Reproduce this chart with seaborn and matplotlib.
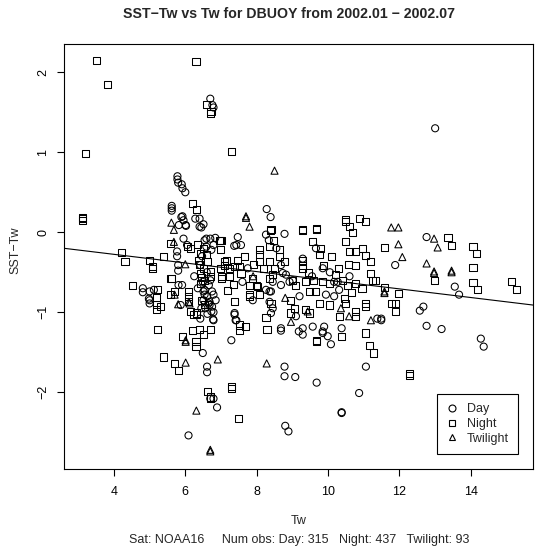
import numpy as np
import pandas as pd
import matplotlib
matplotlib.use("Agg")
import matplotlib.pyplot as plt
import seaborn as sns
from matplotlib.lines import Line2D

# ---- data (Tw, SST-Tw) ----
day_points = [
    (6.70, 1.67), (6.79, 1.56), (6.76, 1.59), (13.0, 1.30),
    (5.78, 0.70), (5.78, 0.66), (5.80, 0.62), (5.90, 0.60), (5.92, 0.55), (6.00, 0.50),
    (5.62, 0.33), (5.62, 0.30), (5.62, 0.27), (5.92, 0.20), (6.02, 0.08), (5.95, 0.15),
    (5.89, 0.19), (5.82, 0.09), (6.01, 0.09), (6.40, 0.07),
    (6.28, 0.17), (6.40, 0.17), (6.51, 0.10), (6.45, 0.06), (6.70, -0.08), (6.79, -0.16),
    (6.84, -0.07), (6.59, -0.08), (6.54, -0.10), (6.59, -0.18), (6.73, -0.22),
    (5.95, -0.08), (6.05, -0.16), (5.77, -0.24), (5.77, -0.30), (5.80, -0.41), (5.80, -0.48),
    (5.81, -0.66), (5.91, -0.66),
    (6.42, -0.41), (6.70, -0.60), (6.51, -0.74), (6.61, -0.80), (6.51, -0.85), (6.75, -0.74),
    (6.79, -0.78), (6.65, -0.89), (6.75, -0.93), (6.56, -0.95), (6.42, -1.08), (6.79, -1.10),
    (6.49, -0.62), (6.54, -0.72), (6.68, -0.91), (6.79, -1.00), (6.54, -0.78), (6.68, -0.87),
    (6.73, -0.99), (6.78, -1.09), (6.47, -0.30), (6.60, -0.50), (6.45, -0.95), (6.62, -1.02),
    (6.35, -0.70), (6.85, -0.85), (6.25, -0.55), (6.66, -0.66),
    (4.81, -0.70), (4.81, -0.75), (4.98, -0.83), (5.00, -0.74), (5.00, -0.85), (5.00, -0.89),
    (5.12, -0.72), (5.87, -0.91),
    (6.49, -1.51), (6.61, -1.68), (6.61, -1.75), (6.79, -2.08), (6.89, -2.19), (6.70, -2.08),
    (6.09, -2.54),
    (8.28, 0.29), (8.39, 0.19), (8.78, -0.02), (7.47, -0.06), (7.37, -0.17), (7.56, -0.16),
    (7.43, -0.16), (8.26, -0.03), (8.34, -0.10),
    (8.55, -0.20), (8.68, -0.41), (8.73, -0.51), (9.29, -0.33), (9.66, -0.20),
    (8.82, -0.53), (8.68, -0.66), (8.92, -0.62), (10.27, -0.62), (8.45, -0.62), (8.40, -0.74),
    (9.01, -0.60), (10.31, -0.72), (10.17, -0.62), (8.26, -0.72), (9.55, -0.55), (9.85, -0.45),
    (10.05, -0.50), (10.60, -0.55), (9.20, -0.80), (7.60, -0.62), (7.75, -0.45),
    (7.38, -1.01), (7.43, -1.10), (7.89, -0.85), (8.36, -0.74), (8.36, -0.87), (8.45, -0.95),
    (8.40, -1.01), (9.10, -1.05), (7.38, -1.03), (7.41, -1.10),
    (9.94, -0.78), (10.17, -0.80), (11.38, -1.08),
    (8.68, -1.23), (7.29, -1.35), (9.29, -1.28), (9.85, -1.26), (9.85, -1.24), (9.99, -1.30),
    (10.08, -1.40), (10.38, -1.20), (11.06, -1.68), (9.29, -1.20), (9.57, -1.18), (9.89, -1.18),
    (9.18, -1.24), (8.68, -1.20),
    (8.78, -1.68), (9.08, -1.81), (9.68, -1.88), (10.87, -2.01), (10.38, -2.26), (10.38, -2.25),
    (8.80, -2.42), (8.89, -2.49), (8.78, -1.80),
    (12.76, -0.06), (11.88, -0.41), (13.55, -0.68), (13.67, -0.78), (12.67, -0.93),
    (12.57, -0.98), (11.49, -1.10), (11.49, -1.08), (12.76, -1.17), (13.18, -1.21),
    (14.28, -1.33), (14.36, -1.43),
]

night_points = [
    (3.51, 2.15), (3.81, 1.85), (6.30, 2.14), (6.60, 1.60), (6.70, 1.49), (6.72, 1.51),
    (3.21, 0.98), (7.30, 1.01), (3.11, 0.17), (3.11, 0.15), (3.11, 0.18),
    (6.19, 0.36), (6.31, 0.28), (9.28, 0.02), (9.28, 0.04), (9.68, 0.05), (9.68, 0.03),
    (10.48, 0.16), (10.48, 0.14), (10.59, 0.07), (10.87, 0.17), (11.06, 0.14), (10.68, 0.00),
    (8.38, 0.02), (8.40, 0.03), (9.57, -0.11), (9.80, -0.20),
    (4.20, -0.25), (4.31, -0.36), (5.00, -0.35), (5.09, -0.45), (5.09, -0.43), (5.40, -0.30),
    (4.51, -0.66), (5.23, -0.72), (5.20, -0.82), (5.20, -0.90), (5.20, -0.97), (5.31, -0.93),
    (5.58, -0.14), (5.60, -0.58), (5.58, -0.78), (5.70, -0.74), (5.61, -0.58),
    (6.09, -0.74), (6.09, -0.80), (6.09, -0.87), (6.14, -0.99), (6.23, -1.03), (6.31, -1.03),
    (6.31, -1.01),
    (6.05, -0.18), (6.14, -0.20), (6.42, -0.26), (6.37, -0.35), (6.61, -0.37), (6.42, -0.51),
    (6.51, -0.45), (6.70, -0.49), (6.70, -0.55), (6.42, -0.64), (6.98, -0.45), (7.02, -0.55),
    (6.96, -0.10), (6.98, -0.22), (6.99, -0.10), (6.45, -0.56), (6.55, -0.60), (6.40, -0.40),
    (6.60, -0.28), (6.50, -0.20), (6.35, -0.15), (6.45, -0.85), (6.55, -0.90),
    (5.21, -1.22), (5.91, -1.30), (6.19, -1.23), (6.40, -1.22), (6.70, -1.22), (6.51, -1.28),
    (6.30, -1.37), (6.30, -1.43), (5.40, -1.56), (5.70, -1.64), (5.80, -1.73), (6.61, -1.99),
    (6.70, -2.08), (6.71, -2.06),
    (7.00, -0.10), (8.08, -0.22), (8.08, -0.28), (8.08, -0.36), (8.36, -0.18), (8.48, -0.10),
    (8.64, -0.22), (8.64, -0.30), (8.78, -0.36), (8.36, -0.36), (8.20, -0.45), (8.50, -0.45),
    (9.29, -0.35), (9.29, -0.41), (9.29, -0.45), (9.75, -0.28), (9.87, -0.41), (10.50, -0.12),
    (10.59, -0.24), (10.78, -0.24), (10.96, -0.20), (11.06, -0.29), (11.20, -0.36),
    (10.57, -0.40), (10.78, -0.41), (10.10, -0.30), (10.30, -0.45), (9.45, -0.50),
    (7.15, -0.35), (7.10, -0.41), (7.38, -0.43), (7.24, -0.55), (7.56, -0.51), (7.89, -0.58),
    (7.80, -0.66), (7.99, -0.66), (8.36, -0.58), (8.45, -0.53), (7.10, -0.37), (7.24, -0.45),
    (7.52, -0.43), (7.47, -0.35), (7.01, -0.58), (8.03, -0.68), (7.80, -0.80), (8.40, -0.89),
    (7.65, -0.30), (7.90, -0.40), (7.35, -0.65),
    (9.01, -0.60), (9.10, -0.66), (9.38, -0.62), (9.47, -0.74), (9.66, -0.74), (9.85, -0.62),
    (10.03, -0.64), (10.22, -0.53), (10.40, -0.60), (10.54, -0.66), (10.78, -0.64),
    (11.24, -0.60), (11.20, -0.51), (9.60, -0.60), (10.65, -0.75), (10.95, -0.70),
    (7.19, -0.73), (7.38, -0.87), (7.52, -1.16), (7.80, -0.78), (8.08, -0.78), (8.96, -0.85),
    (9.06, -0.95), (8.96, -1.01), (9.38, -0.97), (9.47, -1.01), (9.75, -0.89), (10.03, -0.91),
    (10.45, -0.83), (10.50, -0.89), (10.33, -1.05), (10.78, -0.99), (11.06, -0.89),
    (11.06, -0.93), (10.78, -1.05), (8.26, -1.07),
    (7.52, -1.23), (7.69, -1.18), (8.29, -1.22), (9.68, -1.37), (9.68, -1.35), (10.38, -1.30),
    (11.06, -1.26), (11.17, -1.42), (11.27, -1.51), (7.29, -1.95), (7.29, -1.93), (7.50, -2.33),
    (12.27, -1.79), (12.27, -1.77),
    (11.58, -0.19), (13.36, -0.06), (13.46, -0.16), (14.06, -0.18), (14.16, -0.26),
    (14.06, -0.44), (14.06, -0.63), (14.18, -0.72), (15.15, -0.62), (15.27, -0.71),
    (12.97, -0.60), (11.58, -0.69), (11.97, -0.77), (11.78, -0.89), (11.88, -0.89),
    (11.88, -0.99), (11.32, -0.60),
]

twilight_points = [
    (8.50, 0.77), (7.70, 0.20), (7.70, 0.18), (7.80, 0.07), (5.61, 0.12), (5.68, 0.03),
    (5.68, -0.12), (6.00, -0.40), (5.70, -0.78), (5.80, -0.90), (6.12, -0.89), (6.10, -0.87),
    (6.01, -1.37), (6.01, -1.35), (6.01, -1.63), (6.91, -1.59), (6.31, -2.23), (6.70, -2.74),
    (6.70, -2.72), (8.28, -1.64), (8.96, -1.12), (10.36, -0.95), (11.20, -1.10),
    (11.77, 0.06), (11.97, 0.06), (11.97, -0.15), (12.08, -0.31), (12.76, -0.39),
    (12.97, -0.08), (13.07, -0.19), (12.97, -0.51), (12.97, -0.49), (13.46, -0.50),
    (13.46, -0.48), (11.58, -0.76), (11.58, -0.74), (9.43, -0.99), (10.59, -1.05),
    (7.90, -0.55), (8.80, -0.82),
]

types = ["Day", "Night", "Twilight"]
type_markers = {"Day": "o", "Night": "s", "Twilight": "^"}
fit_intercept = -0.06
fit_slope = -0.054
x_ticks = [4, 6, 8, 10, 12, 14]
y_ticks = [-2, -1, 0, 1, 2]
counts = {"Day": 315, "Night": 437, "Twilight": 93}

frames = []
for name, pts in zip(types, [day_points, night_points, twilight_points]):
    arr = np.array(pts)
    frames.append(pd.DataFrame({"Tw": arr[:, 0], "SST_Tw": arr[:, 1], "Type": name}))
df = pd.concat(frames, ignore_index=True)

sns.set_style("ticks")
plt.rcParams["font.family"] = ["Liberation Sans", "DejaVu Sans"]

W, H = 540, 548
fs = 9
fig = plt.figure(figsize=(W / 100, H / 100), dpi=100)
left, right, top, bottom = 64.3, 533.3, 44.3, 469.0
ax = fig.add_axes([left / W, 1 - bottom / H, (right - left) / W, (bottom - top) / H])

sns.scatterplot(data=df, x="Tw", y="SST_Tw", style="Type", markers=type_markers,
                style_order=types, s=26, facecolor="none", edgecolor="black",
                linewidth=0.75, legend=False, ax=ax, zorder=3)
for coll in ax.collections:
    coll.set_facecolor("none")
    coll.set_edgecolor("black")

ax.axline((0, fit_intercept), slope=fit_slope, color="black", linewidth=0.8, zorder=2)

ax.set_xlim(2.61, 15.75)
ax.set_ylim(-2.96, 2.35)
ax.set_xticks(x_ticks)
ax.set_yticks(y_ticks)
ax.tick_params(axis="both", direction="out", length=5, width=0.8, colors="black",
               labelsize=fs)
ax.tick_params(axis="x", pad=7)
ax.tick_params(axis="y", pad=6)
for lab in ax.get_yticklabels():
    lab.set_rotation(90)
    lab.set_va("center")
ax.set_xlabel("")
ax.set_ylabel("")
for sp in ax.spines.values():
    sp.set_visible(True)
    sp.set_color("black")
    sp.set_linewidth(0.8)

fig.text(289 / W, 1 - 14 / H, "SST\u2212Tw vs Tw for DBUOY from 2002.01 \u2212 2002.07",
         ha="center", va="center", fontsize=10.2, fontweight="bold")
fig.text(15 / W, 1 - 250 / H, "SST\u2212Tw", rotation=90, ha="center", va="center",
         fontsize=fs)
fig.text(299 / W, 1 - 521 / H, "Tw", ha="center", va="center", fontsize=fs)
sub = ("Sat: NOAA16     Num obs: Day: %d   Night: %d   Twilight: %d"
       % (counts["Day"], counts["Night"], counts["Twilight"]))
fig.text(299 / W, 1 - 540 / H, sub, ha="center", va="center", fontsize=fs)

handles = [Line2D([], [], marker=type_markers[t], linestyle="", markerfacecolor="none",
                  markeredgecolor="black", markersize=5, markeredgewidth=0.8) for t in types]
leg = ax.legend(handles, types, loc="lower right", bbox_to_anchor=(0.968, 0.035),
                borderaxespad=0, fontsize=fs, frameon=True, fancybox=False,
                framealpha=1, edgecolor="black", handlelength=0.8, handletextpad=0.8,
                labelspacing=0.22, borderpad=0.75)
leg._legend_box.align = "left"
leg.get_frame().set_linewidth(0.8)

fig.savefig("out.png", dpi=100, facecolor="white")
